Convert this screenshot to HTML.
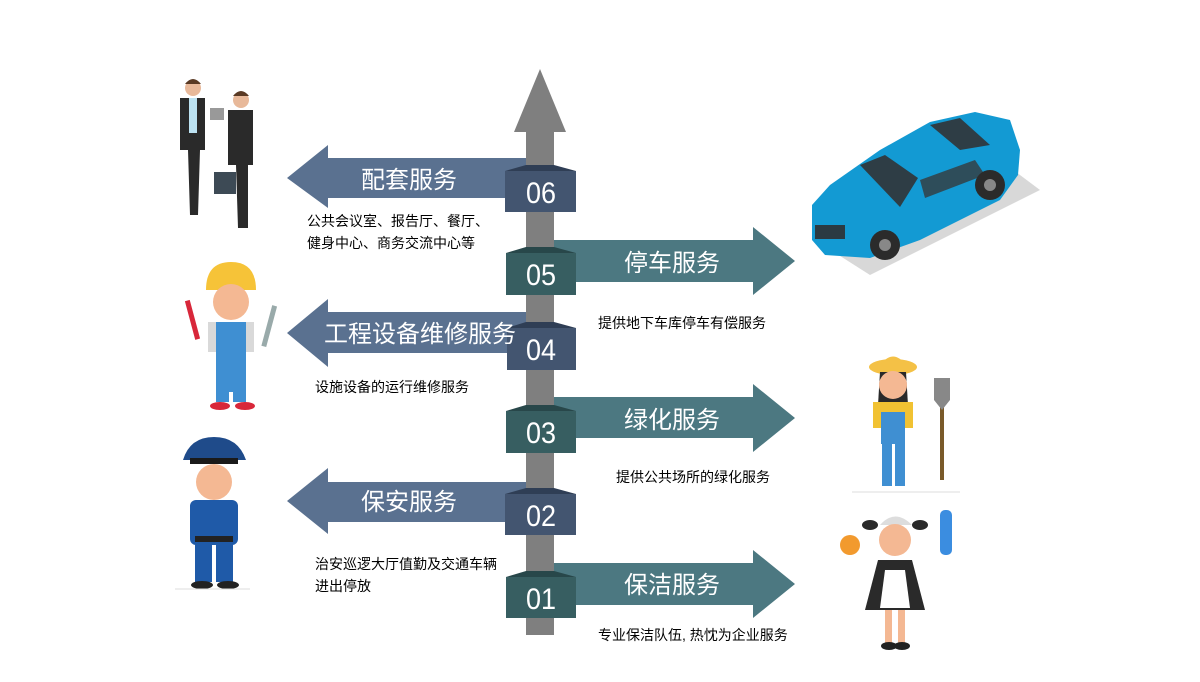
<!DOCTYPE html>
<html><head><meta charset="utf-8"><style>
html,body{margin:0;padding:0;background:#fff;}
svg{display:block;}
text{font-family:"Liberation Sans","Noto Sans CJK SC",sans-serif;}
</style></head><body>
<svg width="1200" height="682" viewBox="0 0 1200 682" xmlns="http://www.w3.org/2000/svg">
<!-- central bar -->
<polygon points="540,69 566,132 554,132 554,635 526,635 526,132 514,132" fill="#7f7f7f"/>
<!-- left arrows -->
<polygon points="287,178 328,145 328,158 526,158 526,198 328,198 328,208" fill="#5a7190"/>
<polygon points="287,333 328,299 328,312 526,312 526,353 328,353 328,367" fill="#5a7190"/>
<polygon points="287,501 328,468 328,482 526,482 526,522 328,522 328,534" fill="#5a7190"/>
<!-- right arrows -->
<polygon points="554,240 753,240 753,227 795,261 753,295 753,282 554,282" fill="#4c7881"/>
<polygon points="554,397 753,397 753,384 795,418 753,452 753,438 554,438" fill="#4c7881"/>
<polygon points="554,563 753,563 753,550 795,584 753,618 753,605 554,605" fill="#4c7881"/>
<!-- boxes -->
<g>
<polygon points="505,171 526,165 554,165 576,171" fill="#2f3e55"/><rect x="505" y="171" width="71" height="41" fill="#435570"/>
<polygon points="506,253 526,247 554,247 576,253" fill="#28474a"/><rect x="506" y="253" width="70" height="42" fill="#375e61"/>
<polygon points="507,328 526,322 554,322 576,328" fill="#2f3e55"/><rect x="507" y="328" width="69" height="42" fill="#435570"/>
<polygon points="506,411 526,405 554,405 576,411" fill="#28474a"/><rect x="506" y="411" width="70" height="42" fill="#375e61"/>
<polygon points="505,494 526,488 554,488 576,494" fill="#2f3e55"/><rect x="505" y="494" width="71" height="41" fill="#435570"/>
<polygon points="506,577 526,571 554,571 576,577" fill="#28474a"/><rect x="506" y="577" width="70" height="41" fill="#375e61"/>
</g>
<g fill="#fff" font-size="30" text-anchor="middle">
<text x="541" y="203" transform="translate(541 0) scale(0.9 1) translate(-541 0)">06</text>
<text x="541" y="285" transform="translate(541 0) scale(0.9 1) translate(-541 0)">05</text>
<text x="541" y="360" transform="translate(541 0) scale(0.9 1) translate(-541 0)">04</text>
<text x="541" y="443" transform="translate(541 0) scale(0.9 1) translate(-541 0)">03</text>
<text x="541" y="526" transform="translate(541 0) scale(0.9 1) translate(-541 0)">02</text>
<text x="541" y="609" transform="translate(541 0) scale(0.9 1) translate(-541 0)">01</text>
</g>
<g fill="#fff" font-size="24" text-anchor="middle">
<text x="409" y="188">配套服务</text>
<text x="420" y="342">工程设备维修服务</text>
<text x="409" y="510">保安服务</text>
<text x="672" y="271">停车服务</text>
<text x="672" y="428">绿化服务</text>
<text x="672" y="593">保洁服务</text>
</g>
<g fill="#000" font-size="14">
<text x="307" y="226">公共会议室、报告厅、餐厅、</text>
<text x="307" y="248">健身中心、商务交流中心等</text>
<text x="598" y="328">提供地下车库停车有偿服务</text>
<text x="315" y="392">设施设备的运行维修服务</text>
<text x="616" y="482">提供公共场所的绿化服务</text>
<text x="315" y="569">治安巡逻大厅值勤及交通车辆</text>
<text x="315" y="591">进出停放</text>
<text x="598" y="640">专业保洁队伍, 热忱为企业服务</text>
</g>
<!-- car -->
<g>
<polygon points="815,240 1000,160 1040,190 870,275" fill="#d8d8d8"/>
<path d="M812,205 L830,185 L880,150 L930,122 L975,112 L1010,120 L1020,150 L1018,175 L1000,200 L920,240 L870,258 L825,255 L812,240 Z" fill="#139ad3"/>
<path d="M860,165 L885,155 L918,178 L900,207 Z" fill="#2e3d45"/>
<path d="M930,125 L960,118 L990,145 L960,150 Z" fill="#2e3d45"/>
<path d="M920,180 L975,160 L985,175 L925,198 Z" fill="#2e4d5a"/>
<rect x="815" y="225" width="30" height="14" fill="#2b3a42"/>
<circle cx="885" cy="245" r="15" fill="#2b2b2b"/><circle cx="885" cy="245" r="6" fill="#888"/>
<circle cx="990" cy="185" r="15" fill="#2b2b2b"/><circle cx="990" cy="185" r="6" fill="#888"/>
</g>
<!-- businessmen -->
<g>
<circle cx="193" cy="88" r="8" fill="#e8b99a"/><path d="M185,84 Q193,74 201,84 Z" fill="#5a3a24"/>
<path d="M180,98 L205,98 L205,150 L200,150 L198,215 L190,215 L188,150 L180,150 Z" fill="#2a2a2a"/>
<rect x="189" y="98" width="8" height="35" fill="#bde3f2"/>
<circle cx="241" cy="100" r="8" fill="#e8b99a"/><path d="M233,96 Q241,86 249,96 Z" fill="#5a3a24"/>
<path d="M228,110 L253,110 L253,165 L248,165 L248,228 L238,228 L236,165 L228,165 Z" fill="#2a2a2a"/>
<rect x="214" y="172" width="22" height="22" fill="#3d4a55"/>
<rect x="210" y="108" width="14" height="12" fill="#999"/>
</g>
<!-- worker -->
<g>
<path d="M206,290 Q206,262 231,262 Q256,262 256,290 Z" fill="#f6c338"/>
<circle cx="231" cy="302" r="18" fill="#f4b893"/>
<rect x="208" y="322" width="46" height="30" fill="#d9d9d9"/>
<rect x="216" y="322" width="30" height="70" fill="#3f8fd2"/>
<rect x="216" y="350" width="13" height="52" fill="#3f8fd2"/><rect x="233" y="350" width="13" height="52" fill="#3f8fd2"/>
<ellipse cx="220" cy="406" rx="10" ry="4" fill="#d8273a"/><ellipse cx="245" cy="406" rx="10" ry="4" fill="#d8273a"/>
<rect x="190" y="300" width="5" height="40" fill="#d8273a" transform="rotate(-15 192 320)"/>
<rect x="267" y="305" width="5" height="42" fill="#9aa" transform="rotate(15 269 325)"/>
</g>
<!-- police -->
<g>
<path d="M183,460 Q190,437 214,437 Q238,437 246,460 Z" fill="#1f4b8a"/>
<rect x="190" y="458" width="48" height="6" fill="#1a1a1a"/>
<circle cx="214" cy="482" r="18" fill="#f4b893"/>
<rect x="190" y="500" width="48" height="45" rx="6" fill="#1f5aa8"/>
<rect x="195" y="540" width="17" height="42" fill="#1f5aa8"/><rect x="216" y="540" width="17" height="42" fill="#1f5aa8"/>
<rect x="195" y="536" width="38" height="6" fill="#222"/>
<ellipse cx="202" cy="585" rx="11" ry="4" fill="#222"/><ellipse cx="228" cy="585" rx="11" ry="4" fill="#222"/>
<line x1="175" y1="589" x2="250" y2="589" stroke="#ddd"/>
</g>
<!-- gardener -->
<g>
<ellipse cx="893" cy="367" rx="24" ry="8" fill="#f4c146"/>
<path d="M880,365 Q893,348 906,365 Z" fill="#f4c146"/>
<path d="M880,372 L906,372 L908,405 L878,405 Z" fill="#2a2a2a"/>
<circle cx="893" cy="385" r="14" fill="#f4b893"/>
<rect x="873" y="402" width="40" height="26" fill="#f1c232"/>
<rect x="881" y="412" width="24" height="32" fill="#3f8fd2"/>
<rect x="882" y="444" width="10" height="42" fill="#3f8fd2"/><rect x="895" y="444" width="10" height="42" fill="#3f8fd2"/>
<rect x="940" y="395" width="4" height="85" fill="#7a5a2a"/>
<path d="M934,378 L950,378 L950,400 L942,410 L934,400 Z" fill="#888"/>
<line x1="852" y1="492" x2="960" y2="492" stroke="#ddd"/>
</g>
<!-- maid -->
<g>
<path d="M880,525 Q895,508 912,525 Z" fill="#ddd"/>
<circle cx="895" cy="540" r="16" fill="#f4b893"/>
<ellipse cx="870" cy="525" rx="8" ry="5" fill="#2a2a2a"/><ellipse cx="920" cy="525" rx="8" ry="5" fill="#2a2a2a"/>
<path d="M878,560 L912,560 L925,610 L865,610 Z" fill="#2a2a2a"/>
<path d="M885,570 L905,570 L910,608 L880,608 Z" fill="#fff"/>
<rect x="885" y="610" width="7" height="35" fill="#f4b893"/><rect x="898" y="610" width="7" height="35" fill="#f4b893"/>
<ellipse cx="889" cy="646" rx="8" ry="4" fill="#222"/><ellipse cx="902" cy="646" rx="8" ry="4" fill="#222"/>
<circle cx="850" cy="545" r="10" fill="#f29a2e"/>
<rect x="940" y="510" width="12" height="45" rx="5" fill="#3b8de0"/>
</g>
</svg>
</body></html>
